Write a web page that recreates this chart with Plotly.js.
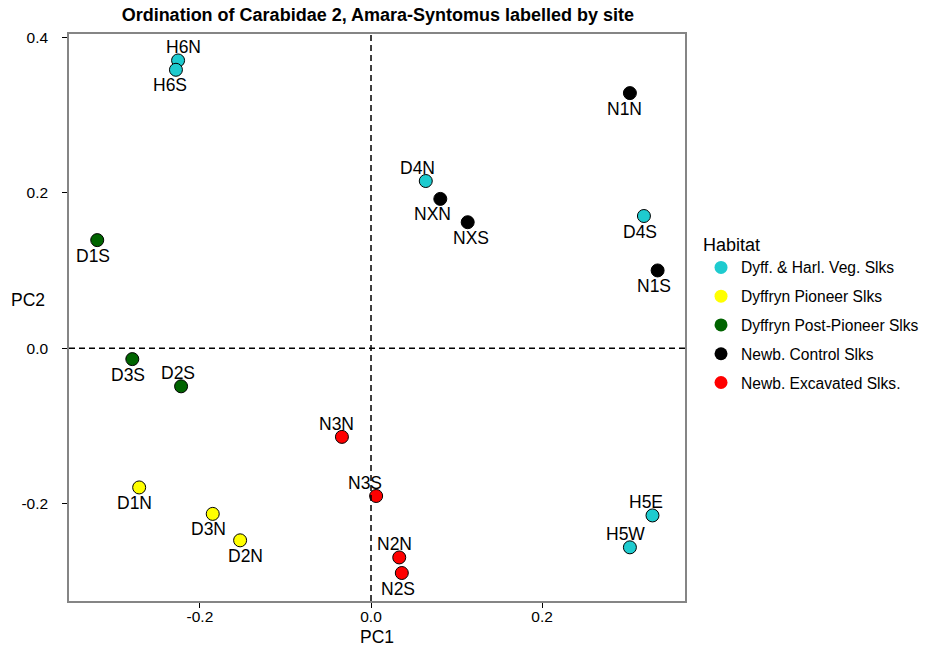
<!DOCTYPE html>
<html><head><meta charset="utf-8">
<script src="https://cdn.plot.ly/plotly-3.0.1.min.js"></script>
<style>body{margin:0;background:#fff}#chart{width:925px;height:649px}</style>
</head><body><div id="chart"></div>
<script>
const sites = ["H6N","H6S","N1N","D4N","NXN","NXS","D4S","D1S","N1S","D3S","D2S","N3N","D1N","N3S","D3N","D2N","H5E","H5W","N2N","N2S"];
const pc1 = [-0.2255,-0.228,0.3026,0.064,0.081,0.113,0.319,-0.320,0.335,-0.279,-0.222,-0.034,-0.271,0.006,-0.185,-0.153,0.329,0.3026,0.033,0.036];
const pc2 = [0.370,0.358,0.328,0.215,0.192,0.162,0.170,0.139,0.100,-0.014,-0.049,-0.114,-0.179,-0.190,-0.213,-0.247,-0.215,-0.256,-0.269,-0.289];
const habitat = ["Dyff. & Harl. Veg. Slks","Dyff. & Harl. Veg. Slks","Newb. Control Slks","Dyff. & Harl. Veg. Slks","Newb. Control Slks","Newb. Control Slks","Dyff. & Harl. Veg. Slks","Dyffryn Post-Pioneer Slks","Newb. Control Slks","Dyffryn Post-Pioneer Slks","Dyffryn Post-Pioneer Slks","Newb. Excavated Slks.","Dyffryn Pioneer Slks","Newb. Excavated Slks.","Dyffryn Pioneer Slks","Dyffryn Pioneer Slks","Dyff. & Harl. Veg. Slks","Dyff. & Harl. Veg. Slks","Newb. Excavated Slks.","Newb. Excavated Slks."];
const habitats = ["Dyff. & Harl. Veg. Slks","Dyffryn Pioneer Slks","Dyffryn Post-Pioneer Slks","Newb. Control Slks","Newb. Excavated Slks."];
// label placement (style only): "above" / "below", plus small horizontal nudge in px
const labelSide = ["above","below","below","above","below","below","below","below","below","below","above","above","below","above","below","below","above","above","above","below"];
const labelDx = [5,-6,-5,-8,-8,3,-4,-4,-4,-4,-3,-5,-5,-11,-4,5,-6,-4,-5,-4];
const colors = ["#1ecbcf","#ffff00","#006400","#000000","#ff0000"];

const FONT = "Liberation Sans, Arial, Helvetica, sans-serif";
const traces = [];
habitats.forEach((h, k) => {
  const idx = sites.map((s,i)=>i).filter(i => habitat[i] === h);
  traces.push({
    type: "scatter", mode: "markers",
    x: idx.map(i=>pc1[i]), y: idx.map(i=>pc2[i]),
    marker: {size: 13, color: colors[k], line: {color: "#000", width: 1}},
    showlegend: false, hoverinfo: "skip", cliponaxis: false
  });
});
habitats.forEach((h, k) => {
  traces.push({
    type: "scatter", mode: "markers", x: [null], y: [null], name: h,
    legendgroup: "g"+k,
    marker: {size: 13, color: colors[k]}
  });
});

const labelAnn = sites.map((s, i) => ({
  x: pc1[i], y: pc2[i], xref: "x", yref: "y", text: s, showarrow: false,
  xanchor: "center", yanchor: "middle",
  xshift: labelDx[i], yshift: labelSide[i] === "above" ? 13 : -15.5,
  font: {size: 17.5, color: "#000"}
}));

const layout = {
  width: 925, height: 649,
  margin: {l: 69, r: 240, t: 34, b: 48, autoexpand: false},
  paper_bgcolor: "#fff", plot_bgcolor: "#fff",
  font: {family: FONT, size: 15.5, color: "#000"},
  title: {text: "<b>Ordination of Carabidae 2, Amara-Syntomus labelled by site</b>", x: 0.4085, xanchor: "center", y: 0.977, yanchor: "middle", font: {size: 18}},
  xaxis: {range: [-0.353, 0.367], tickvals: [-0.2, 0, 0.2], ticktext: ["-0.2","0.0","0.2"],
    showgrid: false, zeroline: false, showline: true, mirror: true, linecolor: "#858585", linewidth: 1.5,
    ticks: "outside", ticklen: 5, tickcolor: "#000", tickwidth: 1.2, tickfont: {size: 15.5}, ticklabelstandoff: -4,
    title: {text: "PC1", font: {size: 17.5}, standoff: 6}},
  yaxis: {range: [-0.325, 0.404], tickvals: [-0.2, 0, 0.2, 0.4], ticktext: ["-0.2","0.0","0.2","0.4"],
    showgrid: false, zeroline: false, showline: true, mirror: true, linecolor: "#858585", linewidth: 1.5,
    ticks: "outside", ticklen: 5, tickcolor: "#000", tickwidth: 1.2, tickfont: {size: 15.5}, ticklabelstandoff: 11},
  shapes: [
    {type: "line", xref: "x", yref: "paper", x0: 0, x1: 0, y0: 0, y1: 1, line: {color: "#000", width: 1.5, dash: "6px,4px"}},
    {type: "line", xref: "paper", yref: "y", x0: 0, x1: 1, y0: 0, y1: 0, line: {color: "#000", width: 1.5, dash: "6px,4px"}}
  ],
  annotations: [
    {text: "PC2", xref: "paper", yref: "paper", x: -0.067, y: 0.53, xanchor: "center", yanchor: "middle", showarrow: false, font: {size: 17.5}}
  ].concat(labelAnn),
  legend: {x: 1.026, xanchor: "left", y: 0.659, yanchor: "top", tracegroupgap: 5.5,
    title: {text: "Habitat", font: {size: 18}}, font: {size: 15.6}, bgcolor: "rgba(0,0,0,0)"}
};
Plotly.newPlot("chart", traces, layout, {displayModeBar: false});
</script></body></html>
